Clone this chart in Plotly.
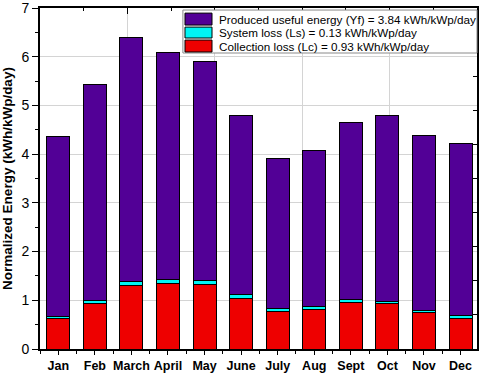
import plotly.graph_objects as go

months = ["Jan", "Feb", "March", "April", "May", "June", "July", "Aug", "Sept", "Oct", "Nov", "Dec"]
# (kWh/kWp/day)
collection_loss = [0.62, 0.93, 1.30, 1.35, 1.33, 1.03, 0.78, 0.81, 0.96, 0.93, 0.74, 0.63]
system_loss = [0.05, 0.06, 0.08, 0.07, 0.08, 0.08, 0.06, 0.07, 0.06, 0.05, 0.05, 0.05]
total_height = [4.36, 5.42, 6.39, 6.09, 5.90, 4.80, 3.91, 4.08, 4.64, 4.79, 4.39, 4.22]
useful_energy = [round(t - c - s, 2) for t, c, s in zip(total_height, collection_loss, system_loss)]

names = [
    "Collection loss (Lc) = 0.93 kWh/kWp/day",
    "System loss (Ls) = 0.13 kWh/kWp/day",
    "Produced useful energy (Yf) = 3.84 kWh/kWp/day",
]
colors = ["#EE0000", "#00F5F5", "#520096"]

fig = go.Figure()
for vals, name, col in zip([collection_loss, system_loss, useful_energy], names, colors):
    fig.add_trace(go.Bar(
        x=months, y=vals, name=name, showlegend=False,
        marker=dict(color=col, line=dict(color="black", width=1)),
        width=0.63,
    ))

xr = [-0.5, 11.45]
# invisible helper traces that carry the frame axes
for xa, ya, xs, ys in [("x2", "y2", [0, 1], [0, 10]),
                       ("x4", "y2", [0, 1], [0, 10]),
                       ("x3", "y", xr, [0, 0])]:
    fig.add_trace(go.Scatter(x=xs, y=ys, xaxis=xa, yaxis=ya, mode="markers",
                             marker=dict(opacity=0), showlegend=False, hoverinfo="skip"))

font_family = "Liberation Sans, Arial, sans-serif"

# legend drawn as a boxed key (top to bottom: Yf, Ls, Lc)
legend_box = dict(x0=0.327, x1=1.0, y0=0.868, y1=0.994)
row_bands = [(0.950, 0.985), (0.912, 0.944), (0.871, 0.906)]
sw_x = (0.3318, 0.3936)
text_x = 0.405
shapes = [dict(type="rect", xref="paper", yref="paper", layer="above",
               fillcolor="white", line=dict(color="#8a8a8a", width=1), **legend_box)]
annotations = []
for (y0, y1), name, col in zip(row_bands, names[::-1], colors[::-1]):
    shapes.append(dict(type="rect", xref="paper", yref="paper", layer="above",
                       x0=sw_x[0], x1=sw_x[1], y0=y0, y1=y1,
                       fillcolor=col, line=dict(color="black", width=1)))
    annotations.append(dict(text=name, xref="paper", yref="paper", x=text_x,
                            y=(y0 + y1) / 2, xanchor="left", yanchor="middle",
                            showarrow=False,
                            font=dict(size=11.7, family=font_family, color="black")))

fig.update_layout(
    width=484, height=376,
    margin=dict(l=40, r=7, t=8, b=27, autoexpand=False),
    paper_bgcolor="white", plot_bgcolor="white",
    barmode="stack",
    showlegend=False,
    shapes=shapes,
    annotations=annotations,
    font=dict(family=font_family, color="black"),
    xaxis=dict(
        type="category", categoryorder="array", categoryarray=months, range=xr,
        side="bottom", ticks="outside", ticklen=4, tickwidth=1.2, tickcolor="black",
        tickfont=dict(size=12.5, family="Liberation Sans, Arial", color="black", weight="bold"),
        showgrid=False, showline=True, linecolor="black", linewidth=1.5, mirror=True,
        automargin=False,
    ),
    xaxis2=dict(
        overlaying="x", anchor="y2", side="top", range=[0, 1],
        showgrid=True, gridcolor="#d4d4d4", gridwidth=1,
        tickmode="linear", dtick=0.2, tick0=0, ticks="inside", ticklen=6, tickwidth=1.2,
        tickcolor="black", showticklabels=False, showline=False, zeroline=False,
        automargin=False,
    ),
    xaxis4=dict(
        overlaying="x", anchor="y2", side="top", range=[0, 1],
        showgrid=False,
        tickmode="linear", dtick=0.1, tick0=0, ticks="inside", ticklen=3, tickwidth=1.2,
        tickcolor="black", showticklabels=False, showline=False, zeroline=False,
        automargin=False,
    ),
    xaxis3=dict(
        overlaying="x", anchor="y", side="bottom", range=xr,
        tickmode="linear", dtick=1, tick0=-0.5, ticks="outside", ticklen=4, tickwidth=1.2,
        tickcolor="black", showticklabels=False, showgrid=False, showline=False,
        zeroline=False, automargin=False,
    ),
    yaxis=dict(
        range=[0, 7], tickmode="linear", dtick=1, tick0=0, showgrid=True,
        gridcolor="#d4d4d4", gridwidth=1,
        ticks="outside", ticklen=6, tickwidth=1.2, tickcolor="black",
        minor=dict(dtick=0.5, ticks="outside", ticklen=3, tickcolor="black", showgrid=False),
        tickfont=dict(size=14, family=font_family, color="black"),
        ticklabeloverflow="allow",
        showline=True, linecolor="black", linewidth=2, zeroline=False, mirror=True,
        automargin=False,
        title=dict(text="Normalized Energy (kWh/kWp/day)",
                   font=dict(size=13.5, family=font_family, color="black", weight="bold"),
                   standoff=6),
    ),
    yaxis2=dict(
        overlaying="y", anchor="x2", side="right", range=[0, 10],
        tickmode="linear", dtick=1, tick0=0,
        ticks="inside", ticklen=4, tickwidth=1.2, tickcolor="black",
        showticklabels=False, showgrid=False, showline=False, zeroline=False,
        automargin=False,
    ),
    bargap=0.37,
)

fig.write_html("out.html", config={"displayModeBar": False},
               post_script="document.body.style.margin='0';")
